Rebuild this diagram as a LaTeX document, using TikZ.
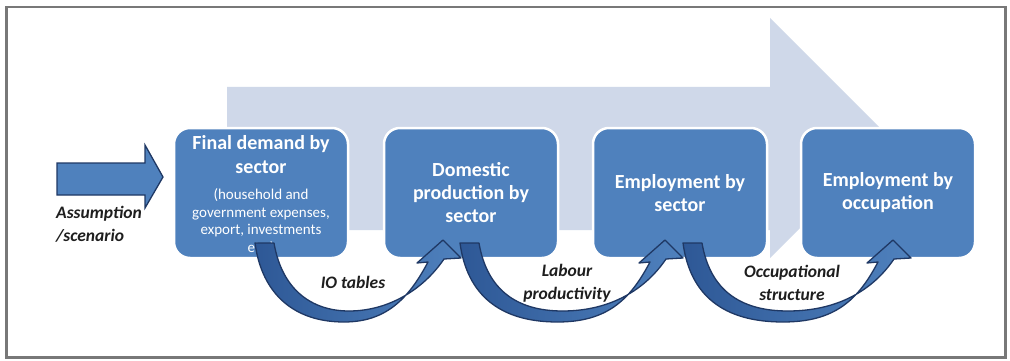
\documentclass[tikz,border=0pt]{standalone}
\usepackage{fontspec}
\setmainfont{Carlito}
\usetikzlibrary{calc}
\definecolor{boxblue}{RGB}{79,129,189}
\definecolor{darkblue}{RGB}{31,56,100}
\definecolor{deepblue}{RGB}{46,88,150}
\definecolor{paleblue}{RGB}{207,216,233}
\definecolor{framegray}{RGB}{120,120,120}
\definecolor{lbltext}{RGB}{30,30,30}
\tikzset{
  stage/.style={draw=white, line width=2.5pt, fill=boxblue, rounded corners=16pt,
    minimum width=174pt, minimum height=130pt, inner sep=0pt,
    text=white, align=center, font=\fontsize{20}{23}\selectfont\bfseries},
  bigtxt/.style={text=white, align=center, inner sep=0pt, font=\fontsize{20}{24}\selectfont\bfseries},
  smalltxt/.style={text=white, align=center, inner sep=0pt, font=\fontsize{15}{17.4}\selectfont},
  lbl/.style={text=lbltext, align=center, inner sep=0pt, font=\fontsize{17.5}{23}\selectfont\bfseries\itshape},
  curvarr/.style={draw=darkblue, line width=1.3pt, line join=round, left color=deepblue, right color=boxblue},
  inarrow/.style={draw=darkblue, line width=1.3pt, line join=miter, fill=boxblue},
  backarrow/.style={fill=paleblue, draw=none}
}
\newcommand\bendarrow[2]{%
  \path[curvarr] (#1,243) -- ({#1+19},243)
    .. controls ({#1+27},290) and ({#1+57},311) .. ({(#1+#2)/2},311)
    .. controls ({#2-55},311) and ({#2-20},290) .. ({#2+1},259)
    -- ({#2+18},258) -- (#2,240) -- ({#2-26},263) -- ({#2-15},262)
    .. controls ({#2-35},300) and ({#2-58},322) .. ({(#1+#2)/2-5},322)
    .. controls ({#1+40},322) and ({#1+7},295) .. (#1,243) -- cycle;}
\begin{document}
\begin{tikzpicture}[x=1pt,y=-1pt]
\useasboundingbox (0,0) rectangle (1010,361);
\fill[white] (0,0) rectangle (1010,361);
\draw[framegray, line width=2.5pt] (6.5,7) rectangle (1005.5,357.5);
% background process arrow
\path[backarrow] (227,87) -- (770,87) -- (770,18) -- (890,138) -- (770,258) -- (770,230) -- (227,230) -- cycle;
% stages
\node[stage] (b1) at (261,193) {};
\node[bigtxt] (t1) at (261,155) {Final demand by\\sector};
\node[smalltxt] (t1s) at (261,221.5) {(household and\\government expenses,\\export, investments\\etc.)};
\node[stage] (b2) at (471,193) {Domestic\\production by\\sector};
\node[stage] (b3) at (680,193) {Employment by\\sector};
\node[stage] (b4) at (888,193) {Employment by\\occupation};
% input
\node[lbl, anchor=west, align=left] (in) at (56,224) {Assumption\\/scenario};
\path[inarrow] (57,163) -- (145,163) -- (145,145) -- (163,177) -- (145,208) -- (145,195) -- (57,195) -- cycle;
% bending arrows
\bendarrow{255}{443}
\bendarrow{460}{665}
\bendarrow{683}{893}
% labels
\node[lbl] (l1) at (353,282) {IO tables};
\node[lbl] (l2) at (567,283) {Labour\\productivity};
\node[lbl] (l3) at (792,283) {Occupational\\structure};
\end{tikzpicture}
\end{document}
